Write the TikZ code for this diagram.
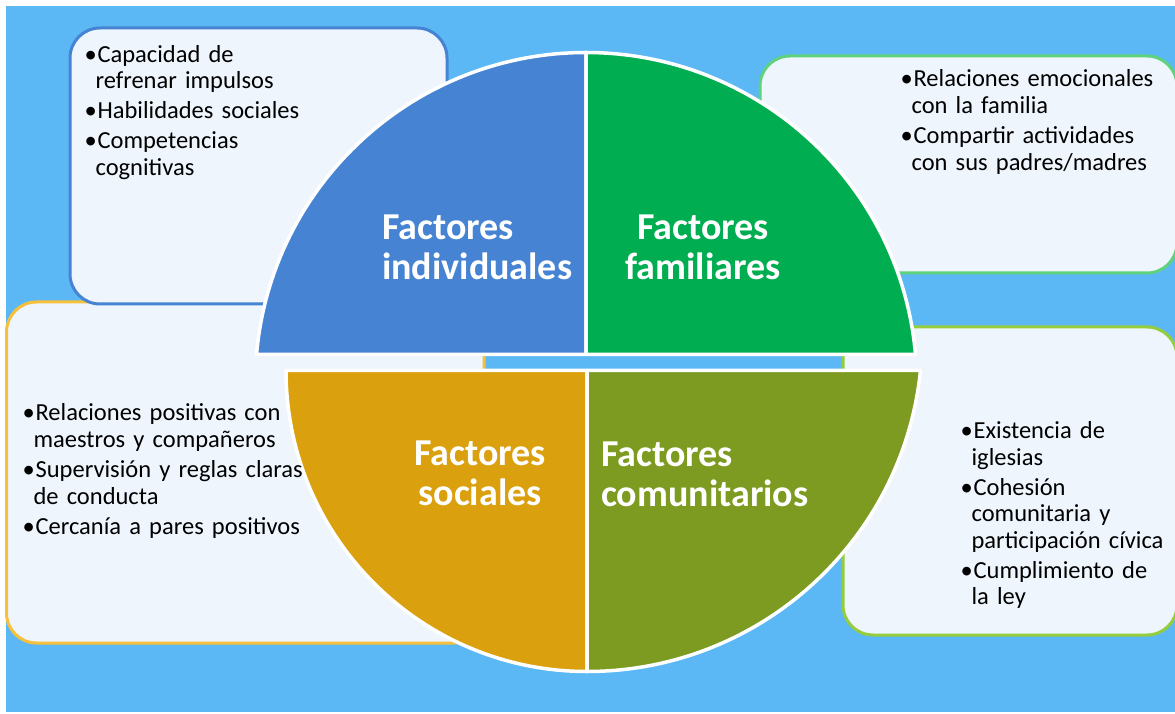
\documentclass[tikz,border=0pt]{standalone}
\usepackage{fontspec}
\setmainfont{Carlito}
\definecolor{bgblue}{RGB}{91,184,245}
\definecolor{boxfill}{RGB}{238,245,253}
\definecolor{indblue}{RGB}{70,132,211}
\definecolor{famgreen}{RGB}{0,173,80}
\definecolor{socyellow}{RGB}{219,160,13}
\definecolor{comolive}{RGB}{124,155,32}
\definecolor{famline}{RGB}{95,210,125}
\definecolor{socline}{RGB}{246,192,60}
\definecolor{comline}{RGB}{150,205,60}
\newlength\bulletw
\setlength\bulletw{13pt}
\newlength\hangw
\setlength\hangw{11pt}
\newcommand\bodyfont{\fontsize{24.5}{26.6}\selectfont}
\newcommand\titlefont{\fontsize{38}{40}\selectfont\bfseries}
\newcommand\bitem[1]{\setlength\parskip{3.4pt}\hangindent=\hangw\hangafter=1\noindent\makebox[\bulletw][l]{\textbullet}\strut#1\par}

\begin{document}
\begin{tikzpicture}[x=1pt, y=1pt,
    card/.style={line width=3pt, fill=boxfill, rounded corners=30pt},
    piece/.style={draw=white, line width=3.5pt, line join=round},
    bullets/.style={anchor=north west, inner sep=0pt, text width=330pt, align=left, font=\bodyfont},
    title/.style={inner sep=0pt, text=white, font=\titlefont}]
    \useasboundingbox (0, 0) rectangle (1175, 713);
    \fill[white] (0, 0) rectangle (1175, 713);
    \fill[bgblue] (6, 1) rectangle (1175, 707);
    \draw[card, draw=socline] (6.5, 70) rectangle (484, 411);
    \draw[card, draw=indblue] (70, 409) rectangle (447, 685);
    \draw[card, draw=famline] (760, 440) rectangle (1177, 657);
    \draw[card, draw=comline] (843, 78) rectangle (1177, 386);
    % four pieces of the circle
    \coordinate (cu) at (586, 329.75);
    \coordinate (cs) at (587, 342.5);
    \coordinate (cc) at (587, 376.75);
    \filldraw[piece, fill=indblue] (586, 358.5) -- ([shift={(cu)}]175.01:330.75) arc[start angle=175.01, end angle=90, radius=330.75] -- cycle;
    \filldraw[piece, fill=famgreen] (586, 358.5) -- ([shift={(cu)}]4.99:330.75) arc[start angle=4.99, end angle=90, radius=330.75] -- cycle;
    \filldraw[piece, fill=socyellow] (cs) -- ([shift={(cs)}]180:301) arc[start angle=180, end angle=270, radius=301] -- cycle;
    \filldraw[piece, fill=comolive] (cs) -- ([shift={(cc)}]-5.86:335.25) arc[start angle=-5.86, end angle=-90, radius=335.25] -- cycle;
    \node[title, anchor=north west, align=left] (0) at (382, 501.7) {\strut Factores\\individuales};
    \node[title, anchor=north, align=center] (1) at (703, 501.7) {\strut Factores\\familiares};
    \node[title, anchor=north, align=center] (2) at (480, 276) {\strut Factores\\sociales};
    \node[title, anchor=north west, align=left] (3) at (601, 275) {\strut Factores\\comunitarios};
    \node[bullets] (4) at (84.4, 669.6) {\bitem{Capacidad de\newline refrenar impulsos}\bitem{Habilidades sociales}\bitem{Competencias\newline cognitivas}};
    \node[bullets] (5) at (900.4, 644.9) {\bitem{Relaciones emocionales\newline con la familia}\bitem{Compartir actividades\newline con sus padres/madres}};
    \node[bullets] (6) at (22.4, 310.9) {\bitem{Relaciones positivas con\newline maestros y compañeros}\bitem{Supervisión y reglas claras\newline de conducta}\bitem{Cercanía a pares positivos}};
    \node[bullets] (7) at (960.4, 293.3) {\bitem{Existencia de\newline iglesias}\bitem{Cohesión\newline comunitaria y\newline participación cívica}\bitem{Cumplimiento de\newline la ley}};
\end{tikzpicture}
\end{document}
